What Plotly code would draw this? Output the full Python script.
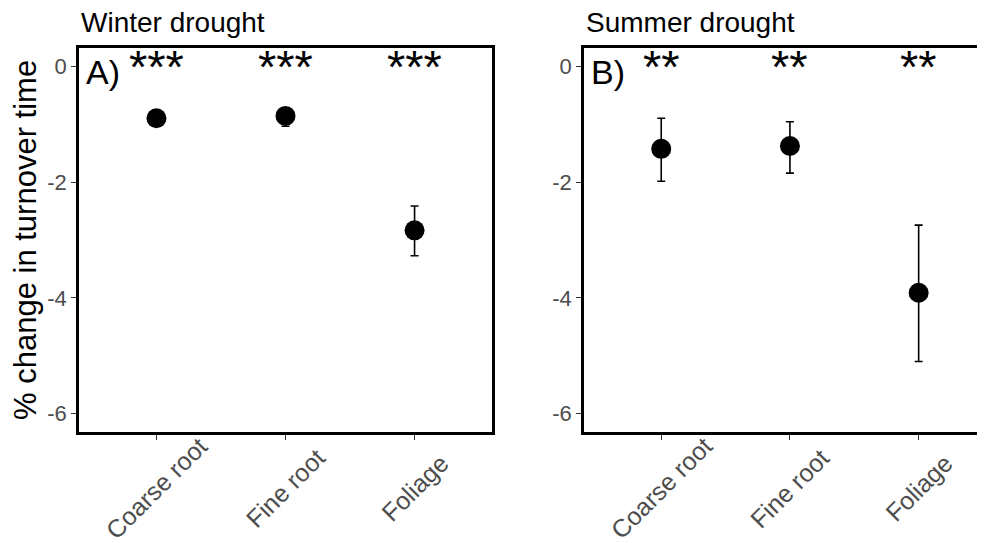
import plotly.graph_objects as go

categories = ["Coarse root", "Fine root", "Foliage"]
winter_mean = [-0.89, -0.85, -2.83]
winter_err_up = [0.08, 0.1, 0.42]
winter_err_down = [0.08, 0.18, 0.44]
summer_mean = [-1.42, -1.37, -3.91]
summer_err_up = [0.53, 0.42, 1.17]
summer_err_down = [0.56, 0.47, 1.19]
winter_stars = ["***", "***", "***"]
summer_stars = ["**", "**", "**"]
panel_titles = ["Winter drought", "Summer drought"]
panel_tags = ["A)", "B)"]
y_ticks = [0, -2, -4, -6]

FONT = "Liberation Sans, Arial, sans-serif"
W, H = 985, 543
OFF = 8  # browser page margin compensation
xpos = [1, 2, 3]


def px_x(p):
    return (p - OFF) / W


def px_y(p):
    return 1 - (p - OFF) / H


fig = go.Figure()

for i, (mean, eu, ed) in enumerate([(winter_mean, winter_err_up, winter_err_down),
                                     (summer_mean, summer_err_up, summer_err_down)]):
    fig.add_trace(go.Scatter(
        x=xpos, y=mean, mode="markers",
        marker=dict(color="black", size=20),
        error_y=dict(type="data", symmetric=False, array=eu, arrayminus=ed,
                     color="black", thickness=1.6, width=4),
        xaxis="x" if i == 0 else "x2", yaxis="y" if i == 0 else "y2",
        showlegend=False, hoverinfo="skip"))

annotations = []
for i, stars in enumerate([winter_stars, summer_stars]):
    xr = "x" if i == 0 else "x2"
    yr = "y" if i == 0 else "y2"
    for xp, s, cat in zip(xpos, stars, categories):
        annotations.append(dict(x=xp, y=0, xref=xr, yref=yr, text=s, showarrow=False,
                                yanchor="middle", xanchor="center",
                                font=dict(family=FONT, size=47, color="black")))
        annotations.append(dict(x=xp, y=px_y(488), xref=xr, yref="paper", text=cat,
                                textangle=-45, showarrow=False,
                                xanchor="center", yanchor="middle",
                                font=dict(family=FONT, size=25, color="#4d4d4d")))

dom_a = [px_x(79), px_x(492)]
dom_b = [px_x(584), 1.0]
ydom = [px_y(432), px_y(48)]
xr_b_end = 1 + (W + OFF - 661) / 128.8

for title, tag, d in zip(panel_titles, panel_tags, [dom_a, dom_b]):
    annotations.append(dict(x=d[0], y=px_y(22), xref="paper", yref="paper", text=title,
                            showarrow=False, xanchor="left", yanchor="middle",
                            font=dict(family=FONT, size=28, color="black")))
    annotations.append(dict(x=d[0] + 5/W, y=px_y(72), xref="paper", yref="paper", text=tag,
                            showarrow=False, xanchor="left", yanchor="middle",
                            font=dict(family=FONT, size=34, color="black")))

annotations.append(dict(x=px_x(25), y=px_y(240), xref="paper", yref="paper",
                        text="% change in turnover time", textangle=-90, showarrow=False,
                        xanchor="center", yanchor="middle",
                        font=dict(family=FONT, size=31, color="black")))

tickfont = dict(family=FONT, size=22, color="#4d4d4d")
common_x = dict(tickmode="array", tickvals=xpos, showticklabels=False, automargin=False,
                showgrid=False, zeroline=False, showline=True, linecolor="black", linewidth=2.5,
                ticks="outside", ticklen=5, tickcolor="#333333", tickwidth=1.2)
common_y = dict(tickmode="array", tickvals=y_ticks, ticktext=[str(v) for v in y_ticks],
                range=[-6.32, 0.325], showgrid=False, zeroline=False, showline=True,
                automargin=False,
                linecolor="black", linewidth=2.5, ticks="outside", ticklen=5,
                tickcolor="#333333", tickwidth=1.2, tickfont=tickfont)

fig.update_layout(
    width=W, height=H,
    margin=dict(l=0, r=0, t=0, b=0),
    paper_bgcolor="white", plot_bgcolor="white",
    xaxis=dict(domain=dom_a, range=[0.4, 3.6], mirror=True, anchor="y", **common_x),
    yaxis=dict(domain=ydom, mirror=True, anchor="x", **common_y),
    xaxis2=dict(domain=dom_b, range=[0.4, xr_b_end], mirror=True, anchor="y2", **common_x),
    yaxis2=dict(domain=ydom, mirror=False, anchor="x2", **common_y),
    annotations=annotations,
)

fig.write_html("out.html")
